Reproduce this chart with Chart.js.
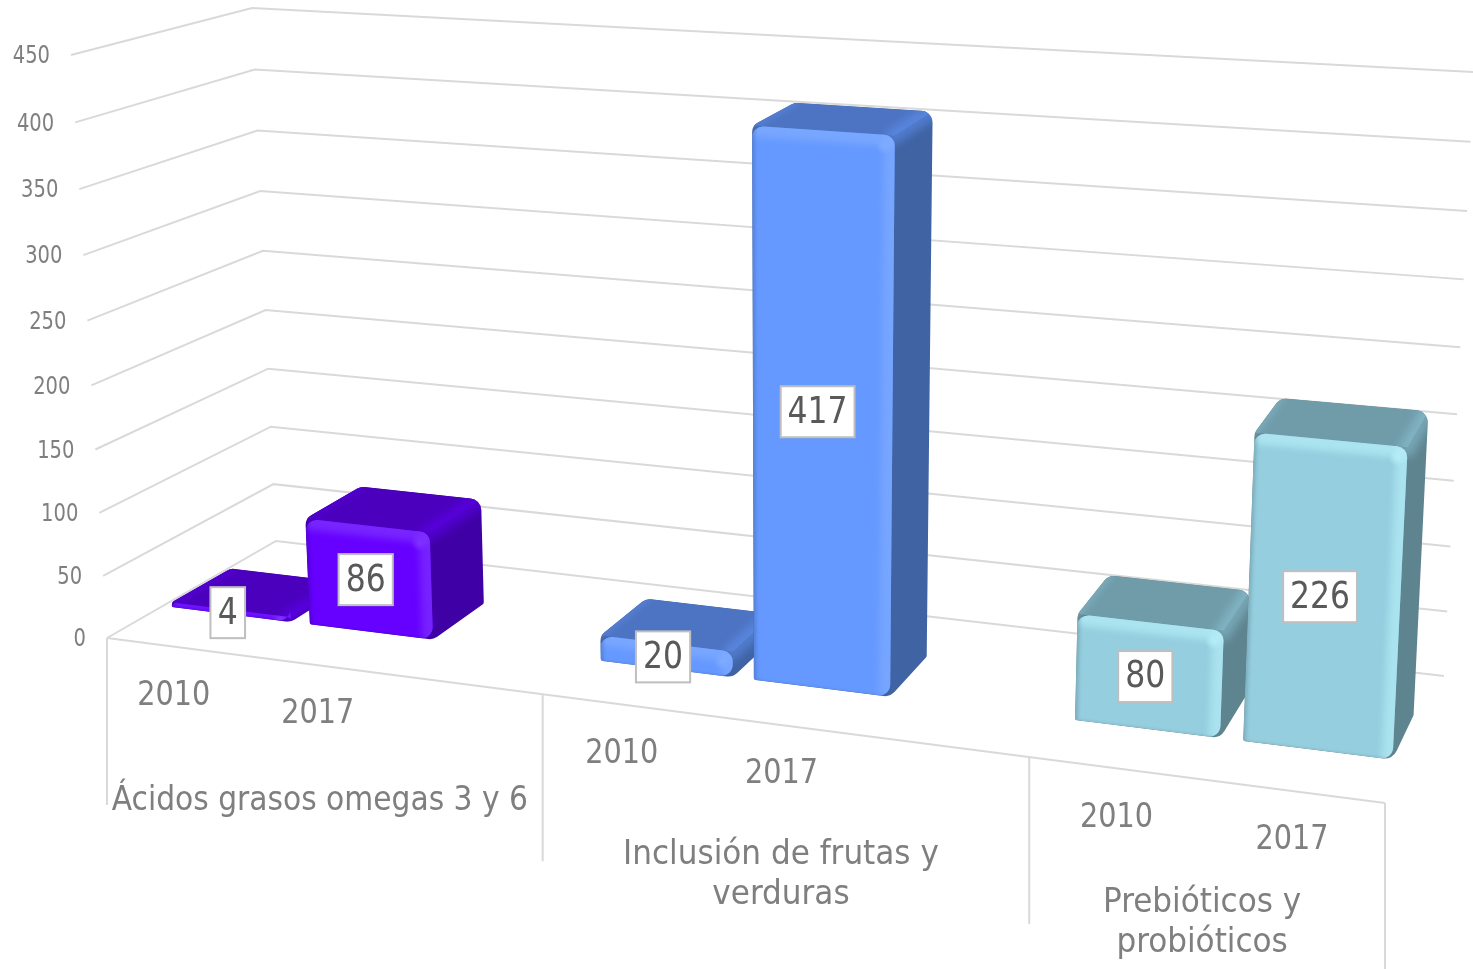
<!DOCTYPE html>
<html>
<head>
<meta charset="utf-8">
<style>
  html, body { margin: 0; padding: 0; background: #fff; }
  canvas { display: block; }
</style>
<script src="https://cdn.jsdelivr.net/npm/chart.js@4"></script>
</head>
<body>
<canvas id="chart3d" width="1473" height="969"></canvas>
<script>
// Values
var years = ["2010", "2017"];
var groupNames = [["Ácidos grasos omegas 3 y 6"], ["Inclusión de frutas y", "verduras"], ["Prebióticos y", "probióticos"]];
var acidos = [4, 86];
var inclusion = [20, 417];
var prebioticos = [80, 226];
var yMax = 450;
var yStep = 50;

// front, top, side, highlight per group
var fronts = ["#6600FF", "#6699FF", "#95CEDF"];
var tops = ["#4B00BD", "#4D74C2", "#709CAA"];
var sides = ["#3F00A5", "#3F63A3", "#5E8490"];
var lights = ["#7F33FF", "#80ACFF", "#B5EEF8"];

var FONT = '"DejaVu Sans Condensed", "DejaVu Sans", sans-serif';
var GRID = "#D9D9D9";
var DEPTH_FRONT = 0.33, DEPTH_BACK = 0.68;

// The 8 corners of the plot box on screen: [left/right][bottom/top][front/back]
var box = {
  lbf: [107, 638], ltf: [71, 55], lbb: [276, 541], ltb: [252, 8],
  rbf: [1385, 803], rtf: [1417, 150], rbb: [1444, 676], rtb: [1474, 72]
};

function mix(a, b, t) { return [a[0] + (b[0] - a[0]) * t, a[1] + (b[1] - a[1]) * t]; }

// u along the categories, v up the value axis, w into the depth (all 0..1)
function project(u, v, w) {
  var uu = u - 0.13 * u * (1 - u);
  var vv = v - 0.045 * v * (1 - v);
  var bottom = mix(mix(box.lbf, box.rbf, uu), mix(box.lbb, box.rbb, uu), w);
  var top = mix(mix(box.ltf, box.rtf, uu), mix(box.ltb, box.rtb, uu), w);
  return mix(bottom, top, vv);
}

function line(ctx, a, b) {
  ctx.beginPath();
  ctx.moveTo(a[0], a[1]);
  ctx.lineTo(b[0], b[1]);
  ctx.stroke();
}

function roundedPoly(ctx, pts, radii) {
  var n = pts.length;
  var start = mix(pts[n - 1], pts[0], 0.5);
  ctx.beginPath();
  ctx.moveTo(start[0], start[1]);
  for (var i = 0; i < n; i++) {
    var next = i + 1 < n ? pts[i + 1] : start;
    ctx.arcTo(pts[i][0], pts[i][1], next[0], next[1], radii[i]);
  }
  ctx.closePath();
}

function softLine(ctx, a, b, color, width, blur, alpha) {
  ctx.save();
  ctx.filter = "blur(" + blur + "px)";
  ctx.globalAlpha = alpha;
  ctx.strokeStyle = color;
  ctx.lineWidth = width;
  ctx.lineCap = "square";
  line(ctx, a, b);
  ctx.restore();
}

function drawBar(ctx, uL, uR, vT, g) {
  var fbl = project(uL, 0, DEPTH_FRONT), ftl = project(uL, vT, DEPTH_FRONT);
  var ftr = project(uR, vT, DEPTH_FRONT), fbr = project(uR, 0, DEPTH_FRONT);
  var btl = project(uL, vT, DEPTH_BACK), btr = project(uR, vT, DEPTH_BACK);
  var bbr = project(uR, 0, DEPTH_BACK);
  var h = fbr[1] - ftr[1];
  var r = Math.min(11, h * 0.4 + 2);
  var band = Math.min(22, h * 0.7 + 2);

  ctx.save();
  roundedPoly(ctx, [fbl, ftl, btl, btr, bbr, fbr], [2, r, 12, 12, 3, 13]);
  ctx.clip();
  ctx.fillStyle = sides[g];
  ctx.fillRect(0, 0, 1473, 969);
  ctx.fillStyle = tops[g];
  ctx.beginPath();
  ctx.moveTo(ftl[0], ftl[1]);
  ctx.lineTo(btl[0], btl[1]);
  ctx.lineTo(btr[0], btr[1]);
  ctx.lineTo(ftr[0], ftr[1]);
  ctx.closePath();
  ctx.fill();
  softLine(ctx, ftr, btr, fronts[g], 16, 4, 0.45);
  softLine(ctx, ftl, btl, fronts[g], 8, 3, 0.3);

  // front face with its bevel
  ctx.save();
  roundedPoly(ctx, [fbl, ftl, ftr, fbr], [2, r, r, 11]);
  ctx.fillStyle = fronts[g];
  ctx.fill();
  ctx.clip();
  softLine(ctx, ftl, ftr, lights[g], band, 3.5, 0.7);
  softLine(ctx, ftr, fbr, lights[g], band, 3.5, 0.65);
  softLine(ctx, fbl, ftl, sides[g], 3, 2, 0.75);
  softLine(ctx, fbl, fbr, sides[g], 2, 1, 0.25);
  var spot = [ftr[0] - 10, ftr[1] + Math.min(10, h * 0.4)];
  var glow = ctx.createRadialGradient(spot[0], spot[1], 0, spot[0], spot[1], 9);
  glow.addColorStop(0, lights[g]);
  glow.addColorStop(1, lights[g] + "00");
  ctx.fillStyle = glow;
  ctx.fillRect(spot[0] - 9, spot[1] - 9, 18, 18);
  ctx.restore();
  ctx.restore();
}

function drawValueLabel(ctx, text, x, y) {
  ctx.font = "38px " + FONT;
  var textW = text.length * 20;
  var w = text.length * 19.6 + 15;
  var h = 51;
  ctx.fillStyle = "#FFFFFF";
  ctx.fillRect(x - w / 2, y - h / 2, w, h);
  ctx.strokeStyle = "#BFBFBF";
  ctx.lineWidth = 2;
  ctx.strokeRect(x - w / 2, y - h / 2, w, h);
  ctx.fillStyle = "#595959";
  ctx.textAlign = "center";
  ctx.textBaseline = "middle";
  ctx.fillText(text, x, y + 1, textW);
}

var plot3d = {
  id: "plot3d",
  beforeDatasetsDraw: function (chart) {
    var ctx = chart.ctx;
    var area = chart.chartArea;
    var ys = chart.scales.y;
    var toU = function (px) { return (px - area.left) / area.width; };
    var toV = function (py) { return (area.bottom - py) / area.height; };
    var i;

    ctx.save();

    // walls
    ctx.strokeStyle = GRID;
    ctx.lineWidth = 2;
    ctx.lineJoin = "miter";
    ys.ticks.forEach(function (t) {
      var v = toV(ys.getPixelForValue(t.value));
      var a = project(0, v, 0), b = project(0, v, 1), c = project(1, v, 1);
      ctx.beginPath();
      ctx.moveTo(a[0], a[1]);
      ctx.lineTo(b[0], b[1]);
      ctx.lineTo(c[0], c[1]);
      ctx.stroke();
      ctx.fillStyle = "#7F7F7F";
      ctx.font = "24px " + FONT;
      ctx.textAlign = "right";
      ctx.textBaseline = "middle";
      var tick = String(t.value);
      ctx.fillText(tick, a[0] - 21, a[1] + 2, tick.length * 12.4);
    });

    // floor front edge and the group dividers, one per spacer slot
    line(ctx, project(0, 0, 0), project(1, 0, 0));
    var slot = area.width / chart.data.labels.length;
    var edges = [0, 2.97 * slot, 5.97 * slot, 8 * slot];
    var floorPts = edges.map(function (e) { return project(e / area.width, 0, 0); });
    floorPts.forEach(function (p) {
      line(ctx, p, [p[0], p[1] + 167]);
    });

    // group names under the floor
    ctx.fillStyle = "#7F7F7F";
    ctx.font = "34.6px " + FONT;
    ctx.textAlign = "center";
    ctx.textBaseline = "middle";
    groupNames.forEach(function (lines, g) {
      var a = floorPts[g], b = floorPts[g + 1];
      var cx = (a[0] + b[0]) / 2 - 5;
      var cy = (a[1] + b[1]) / 2 + 135 - 6 * g;
      lines.forEach(function (txt, k) {
        ctx.fillText(txt, cx, cy + k * 40, 416);
      });
    });

    // bars and year labels, left to right
    var meta = chart.getDatasetMeta(0);
    var labels = [];
    meta.data.forEach(function (el, idx) {
      var value = chart.data.datasets[0].data[idx];
      if (value === null) return;
      var g = Math.floor(idx / 3);
      var uL = toU(el.x - el.width / 2), uR = toU(el.x + el.width / 2);
      var vT = toV(el.y);
      drawBar(ctx, uL, uR, vT, g);

      var fl = project((uL + uR) / 2, 0, 0);
      ctx.fillStyle = "#7F7F7F";
      ctx.font = "34px " + FONT;
      ctx.textAlign = "center";
      ctx.textBaseline = "middle";
      ctx.fillText(chart.data.labels[idx], fl[0] - 3.5, fl[1] + 49, 73);

      var a = project(uL, vT, DEPTH_FRONT), b = project(uR, 0, DEPTH_FRONT);
      labels.push([String(value), (a[0] + b[0]) / 2 - 3.5, (a[1] + b[1]) / 2 + 0.5]);
    });

    for (i = 0; i < labels.length; i++) {
      drawValueLabel(ctx, labels[i][0], labels[i][1], labels[i][2]);
    }
    ctx.restore();
    return false; // bars are painted above, in 3D
  }
};

// one empty slot after each group keeps the groups apart
var slotLabels = years.concat([""], years, [""], years);
var slotValues = acidos.concat([null], inclusion, [null], prebioticos);

var ctx = document.getElementById("chart3d");
var myChart = new Chart(ctx, {
  type: "bar",
  data: {
    labels: slotLabels,
    datasets: [{
      data: slotValues,
      backgroundColor: "#6699FF",
      barPercentage: 0.864,
      categoryPercentage: 1
    }]
  },
  options: {
    responsive: false,
    animation: false,
    layout: { padding: 0 },
    plugins: { legend: { display: false }, tooltip: { enabled: false } },
    scales: {
      x: { ticks: { display: false }, grid: { display: false }, border: { display: false } },
      y: {
        min: 0,
        max: yMax,
        ticks: { display: false, stepSize: yStep },
        grid: { display: false },
        border: { display: false }
      }
    }
  },
  plugins: [plot3d]
});
</script>
</body>
</html>
